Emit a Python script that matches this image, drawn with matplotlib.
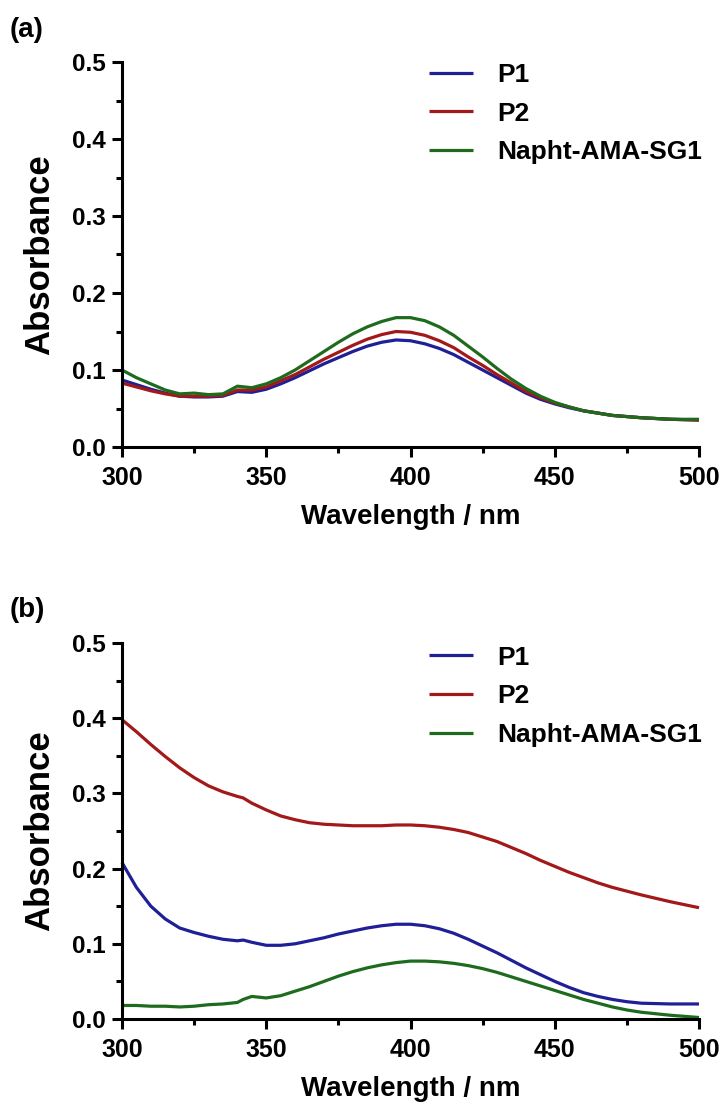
import matplotlib
matplotlib.use("Agg")
import matplotlib.pyplot as plt
from matplotlib.ticker import MultipleLocator, FormatStrFormatter

plt.rcParams['font.family'] = ['Liberation Sans', 'DejaVu Sans']
plt.rcParams['font.weight'] = 'bold'

labels = ["P1", "P2", "Napht-AMA-SG1"]
colors = ["#1f1f96", "#a31818", "#1e6b1e"]

# Panel (a)
wl_a = [300, 305, 310, 315, 320, 325, 330, 335, 340, 345, 350, 355, 360, 365, 370, 375,
        380, 385, 390, 395, 400, 405, 410, 415, 420, 425, 430, 435, 440, 445, 450, 455,
        460, 465, 470, 480, 490, 500]
a_p1 = [0.087, 0.081, 0.075, 0.070, 0.066, 0.065, 0.065, 0.066, 0.072, 0.071, 0.075, 0.082,
        0.090, 0.099, 0.108, 0.116, 0.124, 0.131, 0.136, 0.139, 0.138, 0.134, 0.128, 0.120,
        0.110, 0.100, 0.090, 0.080, 0.070, 0.062, 0.056, 0.051, 0.047, 0.044, 0.041, 0.038,
        0.036, 0.035]
a_p2 = [0.083, 0.078, 0.073, 0.069, 0.066, 0.066, 0.066, 0.067, 0.074, 0.074, 0.078, 0.086,
        0.094, 0.104, 0.114, 0.123, 0.132, 0.140, 0.146, 0.150, 0.149, 0.145, 0.138, 0.129,
        0.117, 0.106, 0.094, 0.083, 0.072, 0.064, 0.057, 0.052, 0.047, 0.044, 0.041, 0.038,
        0.036, 0.035]
a_np = [0.100, 0.090, 0.082, 0.074, 0.069, 0.070, 0.068, 0.069, 0.079, 0.077, 0.082, 0.090,
        0.100, 0.112, 0.124, 0.136, 0.147, 0.156, 0.163, 0.168, 0.168, 0.164, 0.156, 0.145,
        0.131, 0.117, 0.102, 0.088, 0.076, 0.066, 0.058, 0.052, 0.047, 0.044, 0.041, 0.038,
        0.036, 0.036]

# Panel (b)
wl_b = [300, 305, 310, 315, 320, 325, 330, 335, 340, 342, 345, 350, 355, 360, 365, 370,
        375, 380, 385, 390, 395, 400, 405, 410, 415, 420, 425, 430, 435, 440, 445, 450,
        455, 460, 465, 470, 475, 480, 490, 500]
b_p1 = [0.208, 0.175, 0.150, 0.133, 0.121, 0.115, 0.110, 0.106, 0.104, 0.105, 0.102, 0.098,
        0.098, 0.100, 0.104, 0.108, 0.113, 0.117, 0.121, 0.124, 0.126, 0.126, 0.124, 0.120,
        0.114, 0.106, 0.097, 0.088, 0.078, 0.068, 0.059, 0.050, 0.042, 0.035, 0.030, 0.026,
        0.023, 0.021, 0.020, 0.020]
b_p2 = [0.398, 0.382, 0.365, 0.349, 0.334, 0.321, 0.310, 0.302, 0.296, 0.294, 0.287, 0.278,
        0.270, 0.265, 0.261, 0.259, 0.258, 0.257, 0.257, 0.257, 0.258, 0.258, 0.257, 0.255,
        0.252, 0.248, 0.242, 0.236, 0.228, 0.220, 0.211, 0.203, 0.195, 0.188, 0.181, 0.175,
        0.170, 0.165, 0.156, 0.148]
b_np = [0.018, 0.018, 0.017, 0.017, 0.016, 0.017, 0.019, 0.020, 0.022, 0.026, 0.030, 0.028,
        0.031, 0.037, 0.043, 0.050, 0.057, 0.063, 0.068, 0.072, 0.075, 0.077, 0.077, 0.076,
        0.074, 0.071, 0.067, 0.062, 0.056, 0.050, 0.044, 0.038, 0.032, 0.026, 0.021, 0.016,
        0.012, 0.009, 0.005, 0.002]

fig = plt.figure(figsize=(7.26, 11.15), dpi=100)
ax_a = fig.add_axes([122/726, 1 - 447/1115, 577/726, 385/1115])
ax_b = fig.add_axes([122/726, 1 - 1019/1115, 577/726, 376/1115])

panels = [(ax_a, wl_a, [a_p1, a_p2, a_np], 0.998),
          (ax_b, wl_b, [b_p1, b_p2, b_np], 0.993)]

for ax, wl, series, ly in panels:
    for ys, lab, c in zip(series, labels, colors):
        ax.plot(wl, ys, color=c, lw=2.3, label=lab, clip_on=False,
                solid_joinstyle='round', solid_capstyle='butt')
    ax.set_xlim(300, 500)
    ax.set_ylim(0, 0.5)
    ax.xaxis.set_major_locator(MultipleLocator(50))
    ax.xaxis.set_minor_locator(MultipleLocator(25))
    ax.yaxis.set_major_locator(MultipleLocator(0.1))
    ax.yaxis.set_minor_locator(MultipleLocator(0.05))
    ax.yaxis.set_major_formatter(FormatStrFormatter('%.1f'))
    for s in ['top', 'right']:
        ax.spines[s].set_visible(False)
    for s in ['left', 'bottom']:
        ax.spines[s].set_linewidth(2.2)
    ax.tick_params(which='major', direction='out', length=7, width=2.2)
    ax.tick_params(which='minor', direction='out', length=4.5, width=2.2)
    ax.tick_params(axis='x', which='major', labelsize=18, pad=7)
    ax.tick_params(axis='y', which='major', labelsize=17.5, pad=5)
    for t in ax.get_xticklabels() + ax.get_yticklabels():
        t.set_fontweight('bold')
    ax.set_xlabel("Wavelength / nm", fontsize=20, fontweight='bold', labelpad=10)
    ax.set_ylabel("Absorbance", fontsize=25, fontweight='bold', labelpad=11)
    leg = ax.legend(loc='upper left', bbox_to_anchor=(0.532, ly), frameon=False,
                    fontsize=19, handlelength=1.65, handletextpad=0.95,
                    labelspacing=0.56, borderpad=0.0, borderaxespad=0.0)
    for t in leg.get_texts():
        t.set_fontweight('bold')

fig.text(10/726, 1 - 30/1115, "(a)", fontsize=20, fontweight='bold', va='center', ha='left')
fig.text(10/726, 1 - 610/1115, "(b)", fontsize=20, fontweight='bold', va='center', ha='left')

fig.savefig("out.png", dpi=100)
